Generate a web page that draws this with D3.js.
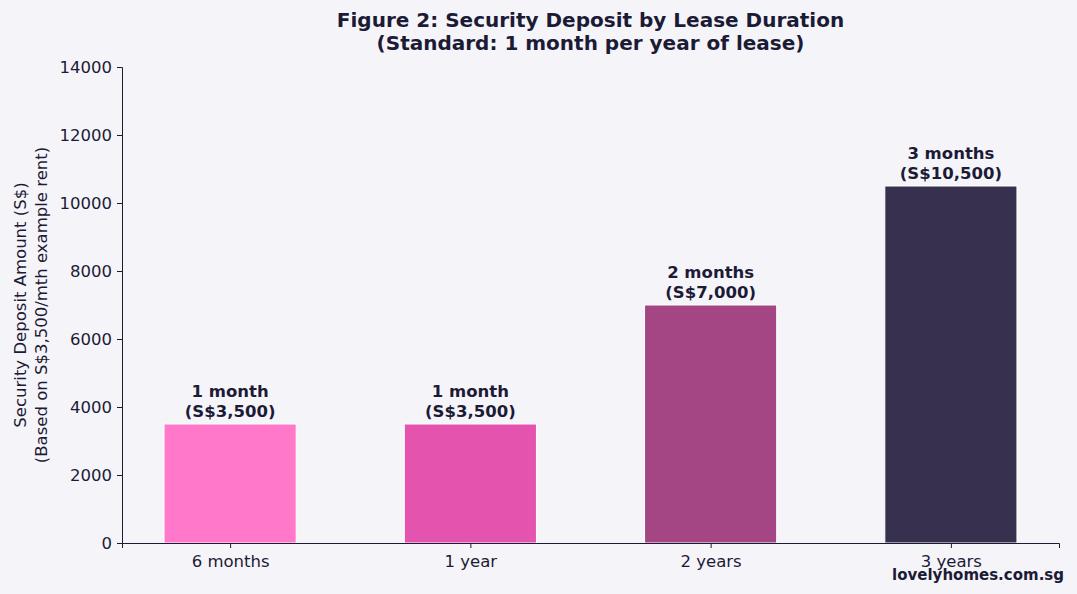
<!DOCTYPE html>
<html>
<head>
<meta charset="utf-8">
<script src="https://cdn.jsdelivr.net/npm/d3@7"></script>
<style>
  body { margin: 0; background: #f5f4f9; }
  svg { display: block; font-family: "DejaVu Sans", sans-serif; }
  .axis text { fill: #1c1b36; font-family: "DejaVu Sans", sans-serif; }
  .axis path, .axis line { stroke: #1c1b36; }
</style>
</head>
<body>
<svg id="chart" width="1077" height="594"></svg>
<script>
var categories = ["6 months", "1 year", "2 years", "3 years"];
var deposits = [3500, 3500, 7000, 10500];
var barLabels = [["1 month", "(S$3,500)"], ["1 month", "(S$3,500)"], ["2 months", "(S$7,000)"], ["3 months", "(S$10,500)"]];
var barColors = ["#ff78c9", "#e453ae", "#a44584", "#37314f"];
var yTicks = [0, 2000, 4000, 6000, 8000, 10000, 12000, 14000];

var svg = d3.select("#chart"),
    margin = {top: 67, right: 18, bottom: 51, left: 122},
    width = +svg.attr("width") - margin.left - margin.right,
    height = +svg.attr("height") - margin.top - margin.bottom,
    g = svg.append("g").attr("transform", "translate(" + margin.left + "," + margin.top + ")");

svg.insert("rect", ":first-child")
    .attr("width", 1077).attr("height", 594).attr("fill", "#f5f4f9");

// matplotlib-like positions: index -0.45 .. 3.45
var x = d3.scaleLinear().domain([-0.45, categories.length - 0.55]).range([0, width]);
var y = d3.scaleLinear().domain([0, 14000]).range([height, 0]);
var barW = x(0.55) - x(0);

g.selectAll(".bar")
    .data(deposits)
    .enter().append("rect")
    .attr("class", "bar")
    .attr("x", function (d, i) { return x(i) - barW / 2; })
    .attr("y", function (d) { return y(d); })
    .attr("width", barW)
    .attr("height", function (d) { return height - y(d); })
    .attr("fill", function (d, i) { return barColors[i]; })
    .attr("stroke", "#ffffff")
    .attr("stroke-width", 1);

var xAxis = d3.axisBottom(x)
    .tickValues(d3.range(categories.length))
    .tickFormat(function (d) { return categories[d]; })
    .tickSizeOuter(0).tickSize(5).tickPadding(7);

g.append("g")
    .attr("class", "axis")
    .attr("transform", "translate(0," + height + ")")
    .call(xAxis);

g.append("g")
    .attr("class", "axis")
    .call(d3.axisLeft(y).tickValues(yTicks).tickFormat(d3.format("d")).tickSizeOuter(0).tickSize(5).tickPadding(5));

g.selectAll(".axis text").style("font-size", "16.5px");

// value labels
var lab = g.selectAll(".lab")
    .data(deposits)
    .enter().append("text")
    .attr("class", "lab")
    .attr("x", function (d, i) { return x(i); })
    .attr("y", function (d) { return y(d) - 27; })
    .attr("text-anchor", "middle")
    .attr("font-size", 16.5)
    .attr("font-weight", "bold")
    .attr("fill", "#1c1b36");
lab.append("tspan").attr("x", function (d, i) { return x(i); })
    .text(function (d, i) { return barLabels[i][0]; });
lab.append("tspan").attr("x", function (d, i) { return x(i); }).attr("dy", 20)
    .text(function (d, i) { return barLabels[i][1]; });

// y label
var yl = svg.append("text")
    .attr("transform", "translate(26," + (margin.top + height / 2) + ") rotate(-90)")
    .attr("text-anchor", "middle")
    .attr("font-size", 16.5)
    .attr("fill", "#1c1b36");
yl.append("tspan").attr("x", 0).text("Security Deposit Amount (S$)");
yl.append("tspan").attr("x", 0).attr("dy", 21).text("(Based on S$3,500/mth example rent)");

// title
var cx = margin.left + width / 2;
var t = svg.append("text")
    .attr("text-anchor", "middle")
    .attr("font-size", 20)
    .attr("font-weight", "bold")
    .attr("fill", "#1c1b36");
t.append("tspan").attr("x", cx).attr("y", 27).text("Figure 2: Security Deposit by Lease Duration");
t.append("tspan").attr("x", cx).attr("y", 50).text("(Standard: 1 month per year of lease)");

// watermark
svg.append("text")
    .attr("x", 1064)
    .attr("y", 580)
    .attr("text-anchor", "end")
    .attr("font-size", 15)
    .attr("font-weight", "bold")
    .attr("fill", "#1c1b36")
    .text("lovelyhomes.com.sg");
</script>
</body>
</html>
